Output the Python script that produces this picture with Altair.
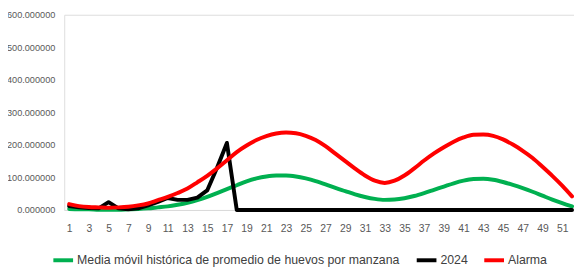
import altair as alt
import pandas as pd

semanas = list(range(1, 53))

media_movil = [3, 2, 2, 1, 1, 1, 2, 3, 5, 8, 11, 16, 22, 30, 40, 52, 64, 76, 88, 97,
               103, 106, 106, 103, 97, 89, 79, 68, 58, 48, 40, 34, 31, 32, 36, 43, 52, 62, 72, 82,
               90, 95, 96, 93, 86, 77, 67, 56, 44, 32, 21, 11]

anio_2024 = [12, 8, 6, 5, 24, 5, 2, 5, 14, 25, 37, 31, 31, 38, 60, 130, 206, 0, 0, 0,
             0, 0, 0, 0, 0, 0, 0, 0, 0, 0, 0, 0, 0, 0, 0, 0, 0, 0, 0, 0,
             0, 0, 0, 0, 0, 0, 0, 0, 0, 0, 0, 0]

alarma = [18, 12, 9, 8, 7, 8, 10, 14, 20, 30, 40, 52, 66, 85, 105, 128, 153, 178, 198, 215,
          227, 235, 238, 236, 228, 215, 196, 173, 150, 127, 106, 90, 83, 90, 106, 128, 152, 174, 193, 210,
          223, 231, 232, 228, 217, 201, 182, 160, 133, 105, 75, 42]

series = ["Media móvil histórica de promedio de huevos por manzana", "2024", "Alarma"]
colores = ["#00B050", "#000000", "#FF0000"]
x_ticks = list(range(1, 52, 2))
y_ticks = [0, 100, 200, 300, 400, 500, 600]

rows = []
for name, vals in zip(series, [media_movil, anio_2024, alarma]):
    for w, v in zip(semanas, vals):
        rows.append({"Semana": w, "Valor": v, "Serie": name})
df = pd.DataFrame(rows)

FONT = "Liberation Sans"

x = alt.X("Semana:Q",
          scale=alt.Scale(domain=[0.5, 52.2], nice=False, zero=False),
          axis=alt.Axis(values=x_ticks, title=None, grid=False, ticks=False,
                        domainColor="#D9D9D9", domainWidth=1,
                        labelFontSize=10.5, labelColor="#595959", labelPadding=13.5,
                        labelFont=FONT, labelOverlap=False, labelFlush=False))
y = alt.Y("Valor:Q",
          scale=alt.Scale(domain=[0, 600], nice=False),
          axis=alt.Axis(values=y_ticks, format=".6f", title=None, grid=False,
                        ticks=False, domain=False, labelFontSize=9.3,
                        labelColor="#595959", labelPadding=9.5, labelFont=FONT))
color = alt.Color("Serie:N",
                  scale=alt.Scale(domain=series, range=colores),
                  legend=alt.Legend(orient="none", legendX=-13, legendY=237,
                                    direction="horizontal", title=None,
                                    symbolType="stroke", symbolStrokeWidth=4,
                                    symbolSize=400, labelOffset=2, columnPadding=8.5,
                                    labelFontSize=12.5, labelColor="#404040",
                                    labelFont=FONT, labelLimit=500))

base = alt.Chart(df)

def layer(name, interp):
    return base.transform_filter(alt.datum.Serie == name).mark_line(
        strokeWidth=4, interpolate=interp, strokeJoin="round", strokeCap="round"
    ).encode(x=x, y=y, color=color)

chart = alt.layer(
    layer(series[0], "monotone"),
    layer(series[1], "linear"),
    layer(series[2], "monotone"),
).properties(
    width=517, height=198,
    autosize=alt.AutoSizeParams(type="none"),
    padding={"left": 57, "top": 5, "right": 0, "bottom": 57},
    background="white",
).configure_view(stroke=None).configure(font=FONT)

chart.save("out.html", embed_options={"renderer": "svg", "actions": False})
